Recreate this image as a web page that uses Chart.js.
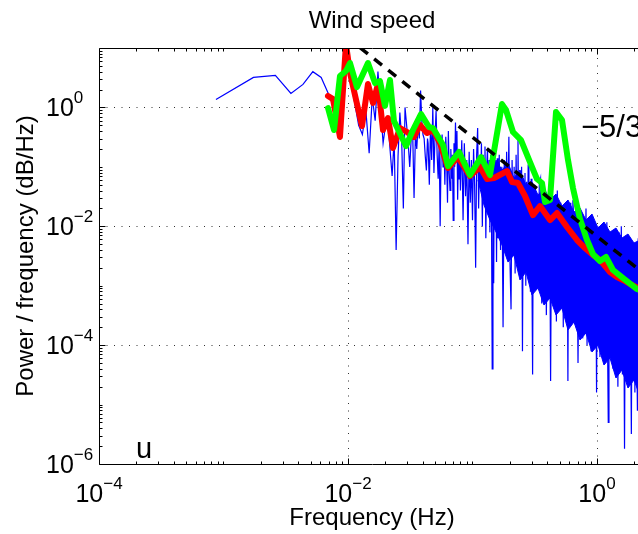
<!DOCTYPE html>
<html><head><meta charset="utf-8">
<script src="https://cdn.jsdelivr.net/npm/chart.js@4.4.0/dist/chart.umd.min.js"></script>
<style>html,body{margin:0;padding:0;background:#fff;overflow:hidden;width:638px;height:534px}canvas{display:block}</style>
</head><body>
<canvas id="c" width="660" height="534"></canvas>
<script>
const titleText = 'Wind speed';
const xLabel = 'Frequency (Hz)';
const yLabel = 'Power / frequency (dB/Hz)';
const slopeLabel = '\u22125/3';
const panelLabel = 'u';
const xTickValues = [1e-4, 1e-2, 1];
const xTickExponents = ['\u22124', '\u22122', '0'];
const yTickValues = [1e-6, 1e-4, 1e-2, 1];
const yTickExponents = ['\u22126', '\u22124', '\u22122', '0'];

// raw periodogram (blue), low-frequency part
const blueFreqLow = [0.00087,0.00174,0.00261,0.00348,0.00435,0.00522,0.00609,0.00696,0.00783,0.0087,
 0.00957,0.01044,0.01131,0.01218,0.01305,0.01392,0.01479,0.01566,0.01653,0.0174,
 0.01827,0.01914,0.02001,0.02088,0.02175,0.02262,0.02349,0.02436,0.02523,0.0261,
 0.02697,0.02784,0.02871,0.02958,0.03045,0.03132,0.03219,0.03306,0.03393,0.0348,
 0.03567,0.03654,0.03741,0.03828,0.03915,0.04002,0.04089,0.04176,0.04263,0.0435];
const bluePowLow = [1.36,3.2,3.45,1.72,2.44,4.0,3.2,1.7,0.9,0.5,
 12,3.0,1.2,0.5,0.35,0.9,0.17,1.5,0.6,4.0,
 1.0,0.25,0.5,0.6,0.2,0.07,0.3,0.004,0.15,0.82,
 0.3,0.02,1.0,0.5,0.25,0.1,0.3,0.4,0.03,0.35,
 0.2,0.5,0.3,1.93,0.6,0.35,0.3,0.15,0.087,0.3];
const blueFreqA = [0.044,0.045,0.046,0.047,0.048,0.049,0.05,0.051,0.052,0.053,
 0.054,0.055,0.056,0.057,0.058,0.059,0.06,0.061,0.062,0.063,
 0.064,0.065,0.066,0.067,0.068,0.069,0.07,0.071,0.072,0.073,
 0.074,0.075,0.076,0.077,0.078,0.079,0.08];
const bluePowA = [0.25,0.05,0.5,0.13,1.0,0.079,0.32,0.89,0.16,0.063,
 0.25,0.01,0.2,0.35,0.1,0.25,0.05,0.32,0.13,0.025,
 0.4,0.079,0.04,0.2,0.063,0.16,0.0126,0.25,0.1,0.56,
 0.13,0.4,0.028,0.16,0.063,0.2,0.04];
const blueFreqB = [0.082,0.084,0.086,0.088,0.09,0.092,0.094,0.096,0.098,0.1,
 0.102,0.104,0.106,0.108,0.11,0.112,0.114,0.116,0.118,0.12,
 0.122,0.124,0.126,0.128,0.13,0.132,0.134,0.136,0.138,0.14,
 0.142,0.144,0.146,0.148,0.15,0.152,0.154,0.156,0.158,0.16];
const bluePowB = [0.28,0.0126,0.25,0.032,0.13,0.005,0.18,0.025,0.13,0.0126,
 0.2,0.05,0.002,0.16,0.45,0.02,0.13,0.05,0.25,0.01,
 0.16,0.032,0.22,0.0063,0.1,0.2,0.016,0.13,0.0079,0.16,
 0.025,4e-5,0.18,0.0011,0.28,0.0126,0.1,0.0025,0.14,0.0063];
const blueFreqC = [0.164,0.168,0.172,0.176,0.18,0.184,0.188,0.192,0.196,0.2,
 0.204,0.208,0.212,0.216,0.22,0.224,0.228,0.232,0.236,0.24,
 0.244,0.248,0.252,0.256,0.26,0.264,0.268,0.272,0.276,0.28,
 0.284,0.288,0.292,0.296,0.3,0.304,0.308,0.312,0.316,0.32];
const bluePowC = [0.16,0.004,0.1,2e-4,0.13,0.0063,0.18,0.016,0.32,0.0025,
 4e-4,0.13,0.005,0.1,0.0016,0.16,0.01,0.28,0.0032,0.079,
 0.0013,0.1,7.9e-5,0.063,0.004,0.079,0.001,0.056,0.0025,0.11,
 0.0063,0.045,7.9e-4,0.063,0.002,3.2e-5,0.04,0.0013,0.05,0.0032];
const blueFreqD = [0.328,0.336,0.344,0.352,0.36,0.368,0.376,0.384,0.392,0.4,
 0.408,0.416,0.424,0.432,0.44,0.448,0.456,0.464,0.472,0.48,
 0.488,0.496,0.504,0.512,0.52,0.528,0.536,0.544,0.552,0.56,
 0.568,0.576,0.584,0.592,0.6,0.608,0.616,0.624,0.632,0.64];
const bluePowD = [0.032,0.001,0.05,0.063,5e-4,0.025,0.0025,0.035,3.2e-4,0.02,
 0.004,0.032,2.5e-5,0.025,6.3e-4,0.016,0.0016,0.028,2.5e-4,0.04,
 0.0032,0.02,5e-4,0.025,0.0013,0.016,2e-4,0.022,0.0025,0.0126,
 4e-4,0.02,2.5e-5,0.016,0.001,0.025,3.2e-4,0.0126,0.002,0.0275];
const blueFreqE = [0.656,0.672,0.688,0.704,0.72,0.736,0.752,0.768,0.784,0.8,
 0.816,0.832,0.848,0.864,0.88,0.896,0.912,0.928,0.944,0.96,
 0.976,0.992,1.008,1.024,1.04,1.056,1.072,1.088,1.104,1.12,
 1.136,1.152,1.168,1.184,1.2,1.216,1.232,1.248,1.264,1.28];
const bluePowE = [0.01,2.5e-4,0.0126,5e-5,0.0079,5e-4,0.011,1.3e-4,0.0063,0.0013,
 0.02,1e-4,0.0079,6.3e-4,0.005,7.9e-5,0.01,3.2e-4,0.0063,0.0016,
 0.0079,1.6e-5,0.005,2e-4,0.01,6.3e-5,0.004,7.9e-4,0.0071,1.3e-4,
 0.005,5e-5,0.01,4e-4,0.0117,1e-4,5e-6,0.005,2.5e-4,0.0063];
const blueFreqF = [1.312,1.344,1.376,1.408,1.44,1.472,1.504,1.536,1.568,1.6,
 1.632,1.664,1.696,1.728,1.76,1.792,1.824,1.856,1.888,1.92,
 1.952,1.984,2.016,2.048,2.08,2.112,2.144,2.176,2.208,2.24];
const bluePowF = [0.005,4e-5,0.0063,2.5e-4,0.004,2e-5,0.0079,1.3e-4,0.01,3.2e-5,
 0.004,1.8e-6,0.005,1.6e-4,0.0032,2.5e-5,0.0063,4e-4,3.2e-6,0.0045,
 6.3e-5,0.0032,1.6e-5,0.005,2e-4,7.9e-6,0.0063,4e-5,0.0032,1.3e-4];

// densely overlapping part of the periodogram: solid band between these levels
const blueBandFreq = [0.1107,0.1237,0.1382,0.1545,0.1726,0.1929,0.2154,0.2407,0.269,0.3005,
 0.3358,0.3752,0.4194,0.4686,0.5235,0.585,0.6535,0.7304,0.8157,0.9116,
 1.0186,1.1381,1.2718,1.4209,1.5877,1.7742,1.9824,2.215,2.43];
const blueBandTop = [0.0818,0.1205,0.0885,0.13,0.0885,0.116,0.0649,0.0885,0.0494,0.0556,
 0.0336,0.044,0.0277,0.0349,0.0219,0.0277,0.0174,0.0203,0.0127,0.0161,
 0.00935,0.0118,0.008,0.00935,0.00634,0.00741,0.00523,0.00587,0.0043];
const blueBandBottom = [0.06,0.0228,0.0127,0.008,0.00484,0.0025,0.00328,0.00125,0.0017,6.97e-4,
 9.14e-4,4.73e-4,6.21e-4,3.21e-4,4.21e-4,1.8e-4,2.45e-4,1.22e-4,1.6e-4,7.66e-5,
 1.0e-4,4.63e-5,6.07e-5,2.8e-5,3.81e-5,1.9e-5,2.59e-5,1.39e-5,1.63e-5];

// smoothed spectrum (red)
const redFreq = [0.00691,0.00758,0.00862,0.00963,0.01038,0.01296,0.01447,0.01588,0.01742,0.0191,
 0.02096,0.02298,0.02617,0.02978,0.0339,0.03788,0.04309,0.04816,0.05483,0.06355,
 0.07645,0.09548,0.1149,0.1308,0.1488,0.1893,0.2077,0.2319,0.2641,0.3061,
 0.3484,0.4194,0.4774,0.5741,0.6909,0.8011,0.9288,1.057,1.272,1.447,
 1.617,1.841,2.215];
const redPow = [1.56,1.38,0.318,11.7,3.79,0.486,2.48,1.19,2.48,0.417,
 0.663,0.207,0.45,0.386,0.318,0.506,0.371,0.417,0.252,0.0956,
 0.146,0.0701,0.0994,0.0624,0.0649,0.0851,0.0556,0.0535,0.0323,0.01546,
 0.0219,0.01274,0.0167,0.00972,0.00587,0.00431,0.00328,0.00271,0.0017,0.0014,
 0.00125,0.00107,0.00088];

// smoothed spectrum (green)
const greenFreq = [0.00691,0.00772,0.00862,0.00963,0.01038,0.01181,0.01447,0.01648,0.01807,0.01982,
 0.02174,0.0234,0.02923,0.03326,0.03859,0.04472,0.04816,0.05795,0.06355,0.07789,
 0.09548,0.117,0.1382,0.1725,0.1858,0.2115,0.2453,0.2896,0.3298,0.3616,
 0.3823,0.4194,0.4686,0.5235,0.585,0.6416,0.7304,0.8313,0.9288,1.057,
 1.181,1.344,1.648,2.096,2.43];
const greenPow = [0.977,0.417,3.38,4.1,5.59,2.2,5.59,2.57,2.78,1.06,
 2.89,0.59,0.224,0.417,0.774,0.468,0.45,0.233,0.103,0.178,
 0.0729,0.146,0.0729,1.14,0.904,0.386,0.283,0.1205,0.0624,0.0535,
 0.0256,0.0277,0.837,0.614,0.13,0.044,0.01324,0.00587,0.00341,0.0026,
 0.00304,0.00184,0.0013,0.00088,0.00078];

// -5/3 reference slope
const slopeFreq = [0.0125, 2.2];
const slopePow = [10.1, 1.82e-3];

function toPoints(fs, ps) { return fs.map((f, i) => ({ x: f, y: ps[i] })); }
const blueFreq = [].concat(blueFreqLow, blueFreqA, blueFreqB, blueFreqC, blueFreqD, blueFreqE, blueFreqF);
const bluePow = [].concat(bluePowLow, bluePowA, bluePowB, bluePowC, bluePowD, bluePowE, bluePowF);

const FONT = '"Liberation Sans", Arial, Helvetica, sans-serif';

const decor = {
  id: 'decor',
  beforeDatasetsDraw(chart) {
    const ctx = chart.ctx, a = chart.chartArea, xs = chart.scales.x, ys = chart.scales.y;
    ctx.save();
    ctx.strokeStyle = 'rgba(0,0,0,0.8)';
    ctx.lineWidth = 1;
    ctx.setLineDash([1, 6.5]);
    xTickValues.forEach(v => {
      const px = Math.round(xs.getPixelForValue(v)) + 0.5;
      if (px <= a.left + 1) return;
      ctx.beginPath(); ctx.moveTo(px, a.bottom); ctx.lineTo(px, a.top); ctx.stroke();
    });
    yTickValues.forEach(v => {
      const py = Math.round(ys.getPixelForValue(v)) + 0.5;
      if (py >= a.bottom - 1) return;
      ctx.beginPath(); ctx.moveTo(a.left, py); ctx.lineTo(a.right, py); ctx.stroke();
    });
    ctx.restore();
  },
  afterDatasetsDraw(chart) {
    const ctx = chart.ctx, a = chart.chartArea, xs = chart.scales.x, ys = chart.scales.y;
    ctx.save();
    const L = a.left + 0.5, R = a.right + 0.5, T = a.top + 0.5, B = a.bottom + 0.5;
    ctx.strokeStyle = '#000'; ctx.lineWidth = 1; ctx.setLineDash([]);
    ctx.beginPath(); ctx.rect(L, T, R - L, B - T); ctx.stroke();
    ctx.beginPath();
    for (let e = -4; e <= 0; e++) {
      for (let m = 1; m <= 9; m++) {
        const v = m * Math.pow(10, e);
        if (v > xs.max) continue;
        const major = xTickValues.some(t => Math.abs(t - v) < v * 1e-6);
        const len = major ? 6 : 3;
        const px = Math.round(xs.getPixelForValue(v)) + 0.5;
        ctx.moveTo(px, B); ctx.lineTo(px, B - len);
        ctx.moveTo(px, T); ctx.lineTo(px, T + len);
      }
    }
    for (let e = -6; e <= 0; e++) {
      for (let m = 1; m <= 9; m++) {
        const v = m * Math.pow(10, e);
        if (v > ys.max) continue;
        const major = yTickValues.some(t => Math.abs(t - v) < v * 1e-6);
        const len = major ? 6 : 3;
        const py = Math.round(ys.getPixelForValue(v)) + 0.5;
        ctx.moveTo(L, py); ctx.lineTo(L + len, py);
      }
    }
    ctx.stroke();
    ctx.fillStyle = '#000';
    ctx.textBaseline = 'alphabetic';
    ctx.textAlign = 'left';
    const baseFont = '25px ' + FONT, expFont = '17px ' + FONT;
    xTickValues.forEach((v, i) => {
      const px = xs.getPixelForValue(v);
      ctx.font = baseFont; const w1 = ctx.measureText('10').width;
      ctx.font = expFont; const w2 = ctx.measureText(xTickExponents[i]).width;
      const sx = px - (w1 + w2) / 2;
      ctx.font = baseFont; ctx.fillText('10', sx, a.bottom + 37.5);
      ctx.font = expFont; ctx.fillText(xTickExponents[i], sx + w1, a.bottom + 25);
    });
    yTickValues.forEach((v, i) => {
      const py = ys.getPixelForValue(v);
      ctx.font = baseFont; const w1 = ctx.measureText('10').width;
      ctx.fillText('10', 46, py + 9);
      ctx.font = expFont; ctx.fillText(yTickExponents[i], 46 + w1, py - 4.5);
    });
    ctx.font = '24px ' + FONT;
    ctx.textAlign = 'center';
    const cx = (a.left + a.right) / 2;
    ctx.fillText(titleText, cx, 28);
    ctx.fillText(xLabel, cx, 525);
    ctx.save();
    ctx.translate(33, (a.top + a.bottom) / 2);
    ctx.rotate(-Math.PI / 2);
    ctx.fillText(yLabel, 0, 0);
    ctx.restore();
    ctx.textAlign = 'left';
    ctx.font = '31px ' + FONT;
    ctx.fillText(slopeLabel, 581, 137);
    ctx.font = '29px ' + FONT;
    ctx.fillText(panelLabel, 136, 458);
    ctx.restore();
  }
};

new Chart(document.getElementById('c'), {
  type: 'line',
  data: {
    datasets: [
      { label: 'slope', data: toPoints(slopeFreq, slopePow), borderColor: '#000000', borderWidth: 3.5,
        borderDash: [10, 8], pointRadius: 0, fill: false, order: 1, clip: 0 },
      { label: 'green', data: toPoints(greenFreq, greenPow), borderColor: '#00ff00', borderWidth: 6,
        borderJoinStyle: 'round', borderCapStyle: 'round', pointRadius: 0, fill: false, order: 2, clip: 0 },
      { label: 'red', data: toPoints(redFreq, redPow), borderColor: '#ff0000', borderWidth: 6,
        borderJoinStyle: 'round', borderCapStyle: 'round', pointRadius: 0, fill: false, order: 3, clip: 0 },
      { label: 'blue', data: toPoints(blueFreq, bluePow), borderColor: '#0000ff', borderWidth: 1.2,
        pointRadius: 0, fill: false, order: 4, clip: 0 },
      { label: 'blueBandTop', data: toPoints(blueBandFreq, blueBandTop), borderColor: '#0000ff', borderWidth: 1,
        backgroundColor: '#0000ff', pointRadius: 0, fill: '+1', order: 5, clip: 0 },
      { label: 'blueBandBottom', data: toPoints(blueBandFreq, blueBandBottom), borderColor: '#0000ff', borderWidth: 1,
        pointRadius: 0, fill: false, order: 6, clip: 0 }
    ]
  },
  options: {
    responsive: false,
    devicePixelRatio: 1,
    animation: false,
    events: [],
    layout: { padding: { left: 99, top: 48, right: 15, bottom: 70 } },
    plugins: { legend: { display: false }, title: { display: false }, tooltip: { enabled: false } },
    elements: { line: { tension: 0 } },
    scales: {
      x: { type: 'logarithmic', min: 1e-4, max: 2.43, display: false },
      y: { type: 'logarithmic', min: 1e-6, max: 10, display: false }
    }
  },
  plugins: [decor]
});
</script>
</body></html>
